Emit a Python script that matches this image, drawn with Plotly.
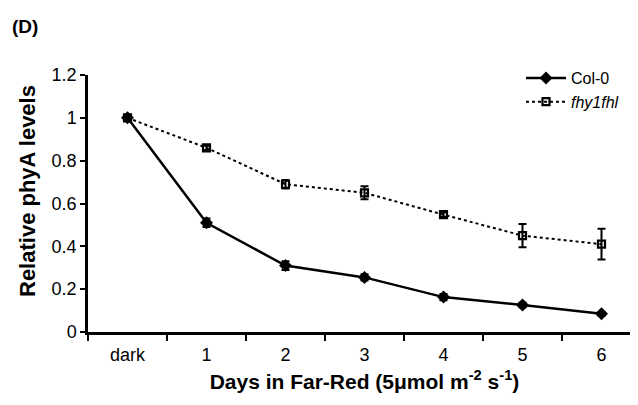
import plotly.graph_objects as go

categories = ["dark", "1", "2", "3", "4", "5", "6"]
col0 = [1.0, 0.51, 0.31, 0.255, 0.163, 0.126, 0.085]
col0_err = [0.0, 0.02, 0.02, 0.015, 0.015, 0.01, 0.008]
fhy = [1.0, 0.86, 0.69, 0.65, 0.548, 0.45, 0.41]
fhy_err = [0.0, 0.01, 0.02, 0.03, 0.01, 0.054, 0.072]
yticks = [0, 0.2, 0.4, 0.6, 0.8, 1, 1.2]
ytick_labels = ["0", "0.2", "0.4", "0.6", "0.8", "1", "1.2"]

FONT = "Liberation Sans, Arial, sans-serif"
PW, PH, L, T = 553, 257, 80, 67  # plot area size and offsets in pixels

fig = go.Figure()
fig.add_trace(go.Scatter(
    x=categories, y=col0, name="Col-0", mode="lines+markers",
    line=dict(color="black", width=2.5),
    marker=dict(symbol="diamond", size=10, color="black"),
    error_y=dict(type="data", array=col0_err, color="black", thickness=2, width=4),
))
fig.add_trace(go.Scatter(
    x=categories, y=fhy, name="<i>fhy1fhl</i>", mode="lines+markers",
    line=dict(color="black", width=2, dash="dot"),
    marker=dict(symbol="square-open", size=7, color="black", line=dict(width=2.2, color="black")),
    error_y=dict(type="data", array=fhy_err, color="black", thickness=2, width=4),
))

fig.update_layout(
    width=638, height=405,
    margin=dict(l=L, r=5, t=T, b=81),
    paper_bgcolor="white", plot_bgcolor="white",
    font=dict(family=FONT, size=18, color="black"),
    showlegend=True,
    legend=dict(x=(513 - L) / PW, y=1 + (T - 53) / PH, xanchor="left", yanchor="top",
                font=dict(size=16), bgcolor="rgba(0,0,0,0)", tracegroupgap=0,
                itemwidth=40),
    xaxis=dict(
        type="category", range=[-0.5, 6.5], tickson="boundaries",
        ticks="outside", ticklen=6, tickwidth=2, tickcolor="black",
        showline=True, linewidth=2.5, linecolor="black", showgrid=False,
        ticklabelstandoff=5, tickfont=dict(size=18),
        title=dict(text="<b>Days in Far-Red (5μmol m<sup>-2</sup> s<sup>-1</sup>)</b>",
                   font=dict(size=21), standoff=10),
    ),
    yaxis=dict(
        range=[0, 1.2], tickvals=yticks, ticktext=ytick_labels,
        ticks="outside", ticklen=5, tickwidth=2, tickcolor="black",
        showline=True, linewidth=2.5, linecolor="black", showgrid=False,
        zeroline=False, tickfont=dict(size=18),
    ),
    annotations=[
        dict(text="<b>(D)</b>", x=-78 / PW, y=1 + (T - 18) / PH,
             xref="paper", yref="paper", xanchor="left", yanchor="middle",
             showarrow=False, font=dict(size=19)),
        dict(text="<b>Relative phyA levels</b>", textangle=-90,
             x=(19 - L) / PW, y=1 - (183 - T) / PH,
             xref="paper", yref="paper", xanchor="center", yanchor="middle",
             showarrow=False, font=dict(size=22)),
    ],
)

fig.write_html("out.html")
